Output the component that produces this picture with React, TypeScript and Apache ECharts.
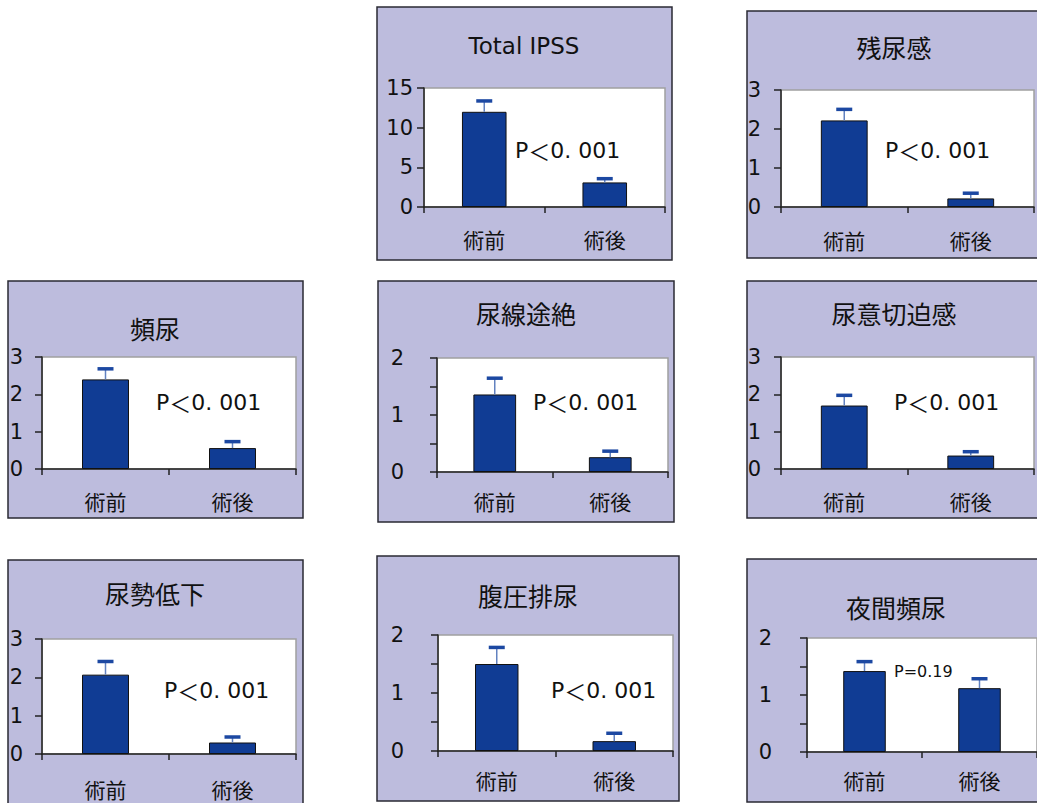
import React, { useEffect, useRef } from "react";
import * as echarts from "echarts";

// ---- data ----
const categories = ["術前", "術後"];
const titles = ["Total IPSS", "残尿感", "頻尿", "尿線途絶", "尿意切迫感", "尿勢低下", "腹圧排尿", "夜間頻尿"];
const totalIpss = [12.0, 3.1];
const totalIpssErr = [1.4, 0.5];
const zannyokan = [2.22, 0.22];
const zannyokanErr = [0.29, 0.14];
const hinnyo = [2.4, 0.56];
const hinnyoErr = [0.29, 0.18];
const nyosenTozetsu = [1.36, 0.26];
const nyosenTozetsuErr = [0.29, 0.11];
const nyoiSeppaku = [1.7, 0.36];
const nyoiSeppakuErr = [0.28, 0.11];
const nyoseiTeika = [2.07, 0.3];
const nyoseiTeikaErr = [0.35, 0.15];
const fukuatsu = [1.5, 0.17];
const fukuatsuErr = [0.29, 0.14];
const yakanHinnyo = [1.42, 1.12];
const yakanHinnyoErr = [0.17, 0.17];
const pLabels = ["P＜0. 001", "P＜0. 001", "P＜0. 001", "P＜0. 001", "P＜0. 001", "P＜0. 001", "P＜0. 001", "P=0.19"];
const yMaxes = [15, 3, 3, 2, 3, 3, 2, 2];
const yIntervals = [5, 1, 1, 0.5, 1, 1, 0.5, 0.5];

const seriesValues = [totalIpss, zannyokan, hinnyo, nyosenTozetsu, nyoiSeppaku, nyoseiTeika, fukuatsu, yakanHinnyo];
const seriesErrors = [totalIpssErr, zannyokanErr, hinnyoErr, nyosenTozetsuErr, nyoiSeppakuErr, nyoseiTeikaErr, fukuatsuErr, yakanHinnyoErr];

// ---- layout (pixels) ----
const layout = [
  { panel: [377, 7, 295, 253], grid: [424, 88, 241, 119], title: [524, 46], p: [515, 150], ym: 11, xm: 21, pf: 22 },
  { panel: [747, 11, 300, 247], grid: [781, 90, 253, 117], title: [894, 47], p: [885, 150], ym: 20, xm: 22, pf: 22 },
  { panel: [8, 281, 295, 237], grid: [42, 357, 254, 112], title: [155, 328], p: [156, 402], ym: 19, xm: 21, pf: 22 },
  { panel: [378, 281, 296, 241], grid: [437, 358, 231, 114], title: [526, 313], p: [533, 402], ym: 33, xm: 18, pf: 22 },
  { panel: [747, 281, 300, 237], grid: [781, 357, 253, 112], title: [894, 313], p: [894, 402], ym: 20, xm: 21, pf: 22 },
  { panel: [8, 560, 295, 260], grid: [42, 639, 254, 115], title: [155, 593], p: [164, 690], ym: 19, xm: 24, pf: 22 },
  { panel: [377, 556, 302, 245], grid: [438, 635, 235, 116], title: [528, 595], p: [551, 690], ym: 34, xm: 18, pf: 22 },
  { panel: [747, 559, 300, 243], grid: [807, 638, 231, 114], title: [896, 607], p: [894, 671], ym: 35, xm: 17, pf: 16 },
];

const LAVENDER = "#BDBCDD";
const BAR = "#103C94";
const AXIS = "#222222";
const LATIN = "DejaVu Sans, Verdana, sans-serif";
const CJK = "Noto Sans CJK JP, sans-serif";

export default function App() {
  const ref = useRef<HTMLDivElement>(null);

  useEffect(() => {
    if (!ref.current) return;
    const chart = echarts.init(ref.current, null, { renderer: "svg" });

    const grids: any[] = [];
    const xAxes: any[] = [];
    const yAxes: any[] = [];
    const series: any[] = [];
    const graphics: any[] = [];

    layout.forEach((L, i) => {
      const [px, py, pw, ph] = L.panel;
      graphics.push({
        type: "rect",
        z: -10,
        shape: { x: px, y: py, width: pw, height: ph },
        style: { fill: LAVENDER, stroke: "#2a2a33", lineWidth: 1.5 },
      });
      graphics.push({
        type: "text",
        z: 100,
        x: L.title[0],
        y: L.title[1],
        style: {
          text: titles[i],
          fill: "#111",
          font: `${i === 0 ? 23 : 25}px ${i === 0 ? LATIN : CJK}`,
          textAlign: "center",
          textVerticalAlign: "middle",
        },
      });
      const parts = pLabels[i].split("＜");
      const richText = parts.length === 2 ? `{a|${parts[0]}}{b|＜}{a|${parts[1]}}` : `{a|${pLabels[i]}}`;
      graphics.push({
        type: "text",
        z: 100,
        x: L.p[0],
        y: L.p[1],
        style: {
          text: richText,
          textAlign: "left",
          textVerticalAlign: "middle",
          rich: {
            a: { fontSize: L.pf, fontFamily: LATIN, fill: "#111", color: "#111" },
            b: { fontSize: L.pf, fontFamily: CJK, fill: "#111", color: "#111" },
          },
        },
      });

      const [gl, gt, gw, gh] = L.grid;
      grids.push({
        left: gl,
        top: gt,
        width: gw,
        height: gh,
        show: true,
        backgroundColor: "#ffffff",
        borderColor: "#a0a0a0",
        borderWidth: 1.5,
        containLabel: false,
      });
      xAxes.push({
        type: "category",
        gridIndex: i,
        data: categories,
        boundaryGap: true,
        axisLine: { show: true, lineStyle: { color: AXIS, width: 1.5 } },
        axisTick: { show: true, length: 6, alignWithLabel: false, lineStyle: { color: AXIS, width: 1.5 } },
        axisLabel: { margin: L.xm, color: "#111", fontSize: 21, fontFamily: CJK },
        splitLine: { show: false },
      });
      const intOnly = yIntervals[i] < 1;
      yAxes.push({
        type: "value",
        gridIndex: i,
        min: 0,
        max: yMaxes[i],
        interval: yIntervals[i],
        axisLine: { show: true, lineStyle: { color: AXIS, width: 1.5 } },
        axisTick: { show: true, length: 7, inside: false, lineStyle: { color: AXIS, width: 1.5 } },
        axisLabel: {
          margin: L.ym,
          color: "#111",
          fontSize: 21,
          fontFamily: LATIN,
          formatter: (v: number) => (intOnly ? (Number.isInteger(v) ? String(v) : "") : String(v)),
        },
        splitLine: { show: false },
      });
      series.push({
        type: "bar",
        xAxisIndex: i,
        yAxisIndex: i,
        data: seriesValues[i],
        barWidth: "37%",
        itemStyle: { color: BAR, borderColor: "#111", borderWidth: 1 },
        z: 2,
      });
      series.push({
        type: "custom",
        xAxisIndex: i,
        yAxisIndex: i,
        z: 3,
        encode: { x: 0, y: 1 },
        data: seriesValues[i].map((v, k) => [k, v, seriesErrors[i][k]]),
        renderItem: (params: any, api: any) => {
          const x = api.value(0);
          const v = api.value(1);
          const e = api.value(2);
          const p0 = api.coord([x, v]);
          const p1 = api.coord([x, v + e]);
          return {
            type: "group",
            children: [
              {
                type: "line",
                shape: { x1: p0[0], y1: p0[1], x2: p1[0], y2: p1[1] },
                style: { stroke: "#6282C0", lineWidth: 1.5 },
              },
              {
                type: "rect",
                shape: { x: p1[0] - 8, y: p1[1] - 1.5, width: 16, height: 3.5 },
                style: { fill: "#1C48A2" },
              },
            ],
          };
        },
      });
    });

    chart.setOption({
      animation: false,
      backgroundColor: "#ffffff",
      grid: grids,
      xAxis: xAxes,
      yAxis: yAxes,
      series,
      graphic: graphics,
    });

    return () => chart.dispose();
  }, []);

  return (
    <div
      ref={ref}
      style={{ position: "absolute", left: 0, top: 0, width: 1037, height: 803 }}
    />
  );
}
